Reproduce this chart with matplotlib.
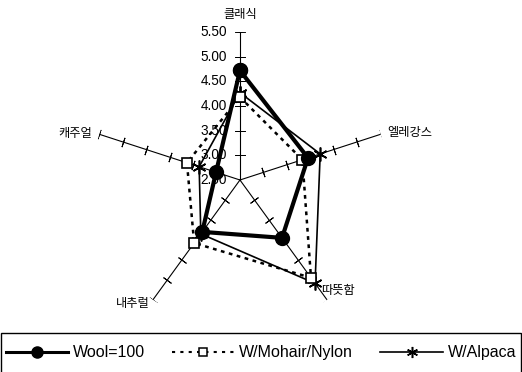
import numpy as np
import matplotlib.pyplot as plt
from matplotlib.lines import Line2D
from matplotlib.patches import Rectangle

plt.rcParams['font.family'] = ['Noto Sans CJK KR', 'DejaVu Sans']

# data
categories = ['클래식', '엘레강스', '따뜻함', '내추럴', '캐주얼']
wool = [4.72, 3.95, 3.95, 3.80, 3.01]
mohair = [4.18, 3.83, 4.95, 4.08, 3.63]
alpaca = [4.27, 4.21, 5.09, 3.85, 3.37]
tick_vals = [2.5, 3.0, 3.5, 4.0, 4.5, 5.0, 5.5]
tick_labels = ['2.50', '3.00', '3.50', '4.00', '4.50', '5.00', '5.50']
series_names = ['Wool=100', 'W/Mohair/Nylon', 'W/Alpaca']

rmin, rmax = 2.5, 5.5
n = len(categories)
theta = np.arange(n) * 2 * np.pi / n

fig = plt.figure(figsize=(5.22, 3.72), dpi=100)
ax = fig.add_axes([0.1762, 0.1183, 0.567, 0.7957], projection='polar')
ax.set_theta_offset(np.pi / 2)
ax.set_theta_direction(-1)
ax.set_ylim(rmin, rmax)
ax.grid(False)
ax.spines['polar'].set_visible(False)
ax.set_xticks([])
ax.set_yticks([])
ax.patch.set_alpha(0)

# spokes with perpendicular tick marks
for i, t in enumerate(theta):
    ax.plot([t, t], [rmin, rmax], color='black', lw=0.8, zorder=1)
    screen_ang = 90 - np.degrees(t)
    ax.plot([t] * (len(tick_vals) - 1), tick_vals[1:], ls='none',
            marker=(2, 2, screen_ang), ms=7, mew=0.7, color='black', zorder=1)

# value labels on the top spoke
for v, lab in zip(tick_vals, tick_labels):
    ax.annotate(lab, xy=(0, v), xytext=(-13, 0), textcoords='offset pixels',
                ha='right', va='center', fontsize=9.8, family='Liberation Sans',
                annotation_clip=False)

# category labels
offsets = [(0, 18, 'center'), (7, 2, 'left'), (-6, 9, 'left'),
           (-3, -4, 'right'), (-7, 1, 'right')]
for t, name, (dx, dy, ha) in zip(theta, categories, offsets):
    ax.annotate(name, xy=(t, rmax), xytext=(dx, dy), textcoords='offset pixels',
                ha=ha, va='center', fontsize=8.8, annotation_clip=False)

tc = np.append(theta, theta[0])
ax.plot(tc, np.append(alpaca, alpaca[0]), color='black', lw=1.2,
        marker=(6, 2, 0), ms=10, mew=1.2, zorder=3, clip_on=False)
ax.plot(tc, np.append(mohair, mohair[0]), color='black', lw=1.8, ls=(0, (1.5, 1.8)),
        marker='s', ms=7, mfc='white', mew=1.2, zorder=4, clip_on=False)
ax.plot(tc, np.append(wool, wool[0]), color='black', lw=3.0,
        marker='o', ms=10, zorder=5, clip_on=False)

# legend box
fig.add_artist(Rectangle((0.002, -0.01), 0.996, 0.115, transform=fig.transFigure,
                         fill=False, lw=1.0, color='black'))
handles = [
    Line2D([], [], color='black', lw=2.2, marker='o', ms=8),
    Line2D([], [], color='black', lw=1.5, ls=(0, (1.5, 2.5)), marker='s', ms=6,
           mfc='white', mew=1.1),
    Line2D([], [], color='black', lw=1.2, marker=(6, 2, 0), ms=8, mew=1.1),
]
fig.legend(handles, series_names, loc='center', bbox_to_anchor=(0.5, 0.052), ncol=3,
           frameon=False, handlelength=3.9, handletextpad=0.3, columnspacing=1.7,
           prop={'family': 'Liberation Sans', 'size': 11.5})

fig.savefig('out.png', dpi=100)
